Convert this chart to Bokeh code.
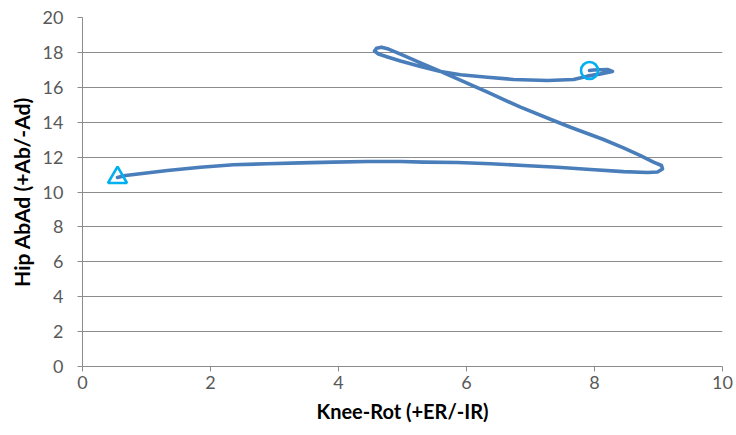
from bokeh.plotting import figure
from bokeh.models import Range1d
from bokeh.embed import file_html
from bokeh.resources import INLINE

# Knee rotation (+ER/-IR) and Hip AbAd (+Ab/-Ad)
knee_rot = [0.547, 0.672, 1.328, 1.844, 2.359, 2.891, 3.406, 3.922, 4.453, 4.969,
            5.328, 5.859, 6.375, 6.891, 7.422, 7.938, 8.453, 8.828, 8.984, 9.063,
            9.047, 8.922, 8.719, 8.453, 8.141, 7.625, 7.359, 6.844, 6.328, 5.797,
            5.594, 5.281, 4.969, 4.781, 4.672, 4.594, 4.563, 4.625, 4.766, 4.969,
            5.281, 5.594, 5.906, 6.328, 6.734, 7.266, 7.672, 7.891, 8.094, 8.281,
            8.203, 7.984, 7.922]
hip_abad = [10.83, 10.95, 11.23, 11.42, 11.56, 11.62, 11.67, 11.71, 11.75, 11.75,
            11.71, 11.69, 11.62, 11.52, 11.42, 11.29, 11.17, 11.12, 11.15, 11.32,
            11.52, 11.71, 12.09, 12.53, 13.01, 13.71, 14.10, 14.86, 15.72, 16.58,
            16.91, 17.40, 17.90, 18.19, 18.30, 18.24, 18.08, 17.91, 17.74, 17.51,
            17.19, 16.91, 16.72, 16.58, 16.45, 16.39, 16.45, 16.64, 16.77, 16.91,
            17.02, 16.99, 16.96]

x_ticks = [0, 2, 4, 6, 8, 10]
y_ticks = [0, 2, 4, 6, 8, 10, 12, 14, 16, 18, 20]

p = figure(width=736, height=435, output_backend="svg", toolbar_location=None,
           x_range=Range1d(0, 10), y_range=Range1d(0, 20),
           min_border_left=82, min_border_right=14, min_border_top=17,
           min_border_bottom=69)
p.outline_line_color = None
p.background_fill_color = "white"

p.line(knee_rot, hip_abad, line_color="#4A7EBB", line_width=3.6,
       line_join="round", line_cap="round")
p.scatter([knee_rot[0]], [hip_abad[0]], marker="triangle", size=19,
          fill_color=None, line_color="#00B0F0", line_width=2.6)
p.scatter([knee_rot[-1]], [hip_abad[-1]], marker="circle", size=17,
          fill_color=None, line_color="#00B0F0", line_width=2.6)

p.xaxis.ticker = x_ticks
p.yaxis.ticker = y_ticks
p.xgrid.grid_line_color = None
p.ygrid.grid_line_color = "#8C8C8C"
p.ygrid.grid_line_width = 1

for ax in (p.xaxis[0], p.yaxis[0]):
    ax.axis_line_color = "#8C8C8C"
    ax.major_tick_line_color = "#8C8C8C"
    ax.major_tick_out = 5
    ax.major_tick_in = 0
    ax.minor_tick_line_color = None
    ax.major_label_text_font = "Lato"
    ax.major_label_text_font_size = "18px"
    ax.major_label_text_color = "#595959"
    ax.axis_label_text_font = "Lato"
    ax.axis_label_text_font_style = "bold"
    ax.axis_label_text_color = "#000000"

p.xaxis.axis_label = "Knee-Rot (+ER/-IR)"
p.yaxis.axis_label = "Hip AbAd (+Ab/-Ad)"
p.xaxis.axis_label_text_font_size = "20px"
p.yaxis.axis_label_text_font_size = "21px"
p.xaxis.major_label_standoff = 4
p.yaxis.major_label_standoff = 14
p.xaxis.axis_label_standoff = 7
p.yaxis.axis_label_standoff = 6

open("out.html", "w").write(file_html(p, INLINE))
